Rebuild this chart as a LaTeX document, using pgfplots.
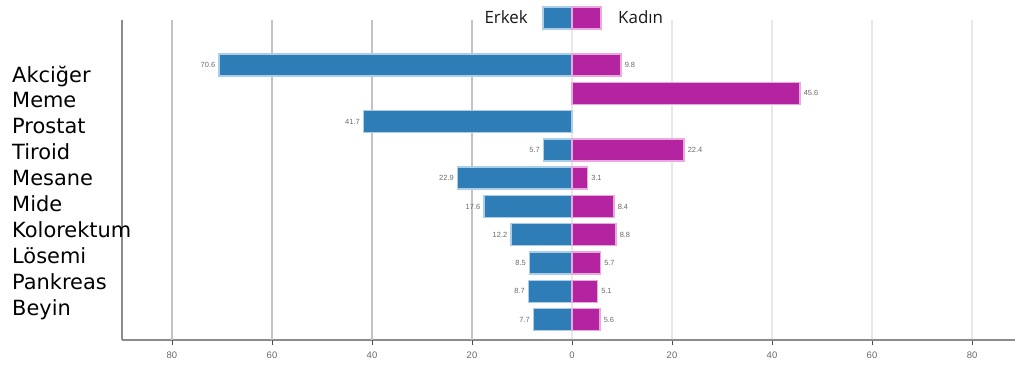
\documentclass[border=0pt]{standalone}
\usepackage{pgfplots}
\pgfplotsset{compat=1.18}
\usepackage{pgfplotstable}
\usepackage{fontspec}
\setmainfont{DejaVu Sans}
\newfontfamily\legfont{Open Sans}
\newfontfamily\numfont{Liberation Sans}
\definecolor{erk}{RGB}{46,125,183}
\definecolor{erkl}{RGB}{170,205,232}
\definecolor{kad}{RGB}{181,36,160}
\definecolor{kadl}{RGB}{232,170,222}
\definecolor{axgray}{RGB}{140,140,140}
\definecolor{gridd}{RGB}{195,195,195}
\definecolor{gridl}{RGB}{232,232,232}
\definecolor{numgray}{RGB}{105,105,105}

\pgfplotstableread{
y val lab
0 -70.6 70.6
-2 -41.7 41.7
-3 -5.7 5.7
-4 -22.9 22.9
-5 -17.6 17.6
-6 -12.2 12.2
-7 -8.5 8.5
-8 -8.7 8.7
-9 -7.7 7.7
}\erkek

\pgfplotstableread{
y val lab
0 9.8 9.8
-1 45.6 45.6
-3 22.4 22.4
-4 3.1 3.1
-5 8.4 8.4
-6 8.8 8.8
-7 5.7 5.7
-8 5.1 5.1
-9 5.6 5.6
}\kadin

\begin{document}
\begin{tikzpicture}
\begin{axis}[
  scale only axis, width=893bp, height=320bp,
  xmin=-90, xmax=88.6, ymin=-9.72, ymax=1.59,
  axis x line=bottom, axis y line=left,
  axis line style={-, draw=axgray, line width=2bp},
  ytick=\empty,
  xtick={-80,-60,-40,-20,0,20,40,60,80},
  xticklabels={80,60,40,20,0,20,40,60,80},
  xmajorgrids, grid style={gridl, line width=1.5bp},
  extra x ticks={-80,-60,-40,-20},
  extra x tick labels={},
  extra x tick style={grid style={gridd, line width=1.5bp}},
  tick align=outside, major tick length=5bp,
  tick style={black!70, line width=1bp},
  xticklabel style={font=\numfont\fontsize{9.5}{11}\selectfont, text=numgray, yshift=-3bp},
  /pgf/number format/assume math mode=true,
  nodes near coords,
  point meta=explicit,
  nodes near coords style={font=\numfont\fontsize{7.5}{9}\selectfont, text=numgray,
    /pgf/number format/fixed, /pgf/number format/precision=1, /pgf/number format/fixed zerofill},
  clip=false,
]
\addplot[xbar, bar width=22bp, bar shift=0pt, fill=erk, draw=erkl, line width=1.5bp,
  nodes near coords style={anchor=east, inner sep=3bp}]
  table[x=val, y=y, meta=lab]{\erkek};
\addplot[xbar, bar width=22bp, bar shift=0pt, fill=kad, draw=kadl, line width=1.5bp,
  nodes near coords style={anchor=west, inner sep=3bp}]
  table[x=val, y=y, meta=lab]{\kadin};
\coordinate (ll) at (rel axis cs:0,0);
\end{axis}
% category labels
\foreach \n [count=\i from 0] in {Akciğer,Meme,Prostat,Tiroid,Mesane,Mide,Kolorektum,Lösemi,Pankreas,Beyin}
  \node[anchor=base west, inner sep=0pt, font=\fontsize{21}{24}\selectfont, text=black,
        xshift=-110bp, yshift={(258-25.9*\i)*1bp}] at (ll) {\n};
% legend
\fill[erk, draw=erkl, line width=1.5bp] ([shift={(421bp,311bp)}]ll) rectangle ([shift={(450bp,333bp)}]ll);
\fill[kad, draw=kadl, line width=1.5bp] ([shift={(450bp,311bp)}]ll) rectangle ([shift={(479bp,333bp)}]ll);
\node[anchor=base east, inner sep=0pt, font=\legfont\fontsize{17}{20}\selectfont, text=black!90,
      xshift=406bp, yshift=316bp] at (ll) {Erkek};
\node[anchor=base west, inner sep=0pt, font=\legfont\fontsize{17}{20}\selectfont, text=black!90,
      xshift=496bp, yshift=316bp] at (ll) {Kadın};
\pgfresetboundingbox
\path[use as bounding box] ([shift={(-122bp,-30bp)}]ll) rectangle ([shift={(893bp,340bp)}]ll);
\end{tikzpicture}
\end{document}
